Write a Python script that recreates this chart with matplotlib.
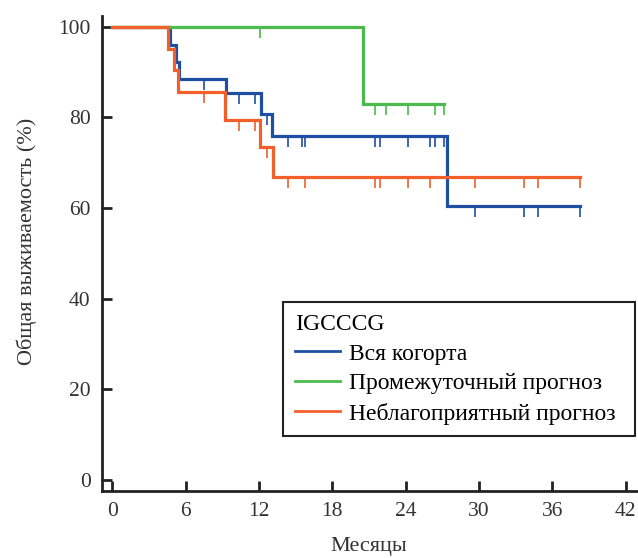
import numpy as np
import matplotlib
matplotlib.use('Agg')
import matplotlib.pyplot as plt

plt.rcParams['font.family'] = ['Liberation Serif', 'DejaVu Serif']

# Kaplan-Meier steps (months, % survival)
all_t = [0, 4.72, 5.2, 5.45, 9.27, 12.16, 13.1, 27.4, 38.3]
all_s = [100, 96.1, 92.3, 88.4, 85.3, 80.7, 75.9, 60.4, 60.4]
all_cens = [7.5, 10.4, 11.7, 12.65, 14.4, 15.5, 15.8, 21.5, 21.9, 24.2, 26.0,
            26.4, 27.1, 29.7, 33.7, 34.8, 38.3]

mid_t = [0, 20.5, 27.1]
mid_s = [100, 82.9, 82.9]
mid_cens = [12.1, 21.5, 22.4, 24.2, 26.4, 27.1]

poor_t = [0, 4.58, 5.04, 5.4, 9.2, 12.08, 13.16, 38.3]
poor_s = [100, 95.2, 90.5, 85.7, 79.4, 73.5, 66.9, 66.9]
poor_cens = [7.5, 10.4, 11.7, 12.65, 14.4, 15.8, 21.5, 21.9, 24.2, 26.0,
             29.7, 33.7, 34.8, 38.3]

labels = ['Вся когорта', 'Промежуточный прогноз', 'Неблагоприятный прогноз']
colors = ['#1f4fa3', '#4cba4c', '#f25f2a']

fig = plt.figure(figsize=(6.38, 5.58), dpi=100)
ax = fig.add_axes([0.1594, 0.1206, 0.8386, 0.8507])

def level(t, s, x):
    i = np.searchsorted(t, x, side='right') - 1
    return np.array(s)[i]

series = [(all_t, all_s, all_cens), (mid_t, mid_s, mid_cens), (poor_t, poor_s, poor_cens)]
for (t, s, c), lab, col in zip(series, labels, colors):
    ax.step(t, s, where='post', color=col, lw=2.3, label=lab, solid_joinstyle='miter')
    c = np.array(c)
    y = level(t, s, c)
    ax.vlines(c, y - 2.4, y, color=col, lw=1.2)

ax.set_xlim(-0.87, 42.9)
ax.set_ylim(-2.4, 102.4)
ax.set_xticks(range(0, 43, 6))
ax.set_yticks(range(0, 101, 20))
for sp in ['top', 'right']:
    ax.spines[sp].set_visible(False)
for sp in ['left', 'bottom']:
    ax.spines[sp].set_linewidth(2.0)
    ax.spines[sp].set_color('#222222')
ax.tick_params(direction='in', length=7.5, width=2.0, color='#222222',
               labelsize=15.5, labelcolor='#333333')
ax.tick_params(axis='x', pad=8)
ax.tick_params(axis='y', pad=8)

ax.set_xlabel('Месяцы', fontsize=16, color='#333333')
ax.set_ylabel('Общая выживаемость (%)', fontsize=16, color='#333333')
ax.xaxis.set_label_coords(0.5, -0.098)
ax.yaxis.set_label_coords(-0.121, 0.526)

leg = ax.legend(title='IGCCCG', loc='upper left',
                bbox_to_anchor=(0.339, 0.111, 0.658, 0.2865), mode='expand',
                fontsize=17, title_fontsize=17, handlelength=1.9,
                handletextpad=0.4, labelspacing=0.35, borderpad=0.5,
                fancybox=False, framealpha=1, alignment='left',
                borderaxespad=0)
leg.get_frame().set_edgecolor('#222222')
leg.get_frame().set_linewidth(1.5)
for h in leg.get_lines():
    h.set_linewidth(2.0)

fig.savefig('out.png', dpi=100)
